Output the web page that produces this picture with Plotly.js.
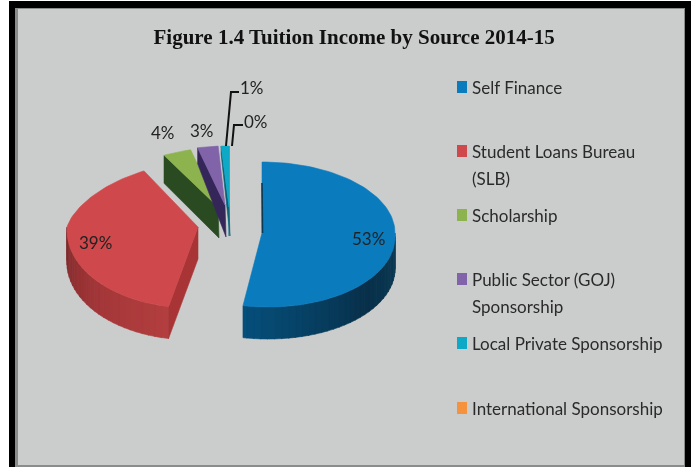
<!DOCTYPE html>
<html><head><meta charset="utf-8">
<script src="https://cdn.plot.ly/plotly-3.0.0.min.js"></script>
<style>html,body{margin:0;padding:0;background:#fff}#c{width:691px;height:467px;filter:blur(0.4px)}</style>
</head><body><div id="c"></div>
<script>
const titleText = "Figure 1.4 Tuition Income by Source 2014-15";
const categories = ["Self Finance","Student Loans Bureau<br>(SLB)","Scholarship","Public Sector (GOJ)<br>Sponsorship","Local Private Sponsorship","International Sponsorship"];
const values = [53,39,4,3,1,0];
const colors = ["#0a7bbd","#cf484b","#8cb34e","#8063a8","#0fa9c8","#f5923e"];
const cutColors = ["#0b3a55","#a83436","#2a4a22","#35265a","#0a5d73","#f5923e"];

// Projection of each exploded slice onto the page (3-D look)
const geom = [
 {cx:262,cy:233,rx:133,ryT:71,ryB:74,p:0,sk:6,d0:0,d:32,wall:[["#05507c",0],["#08304a",.6],["#0d3c57",1]]},
 {cx:198,cy:227,rx:131,ryT:64,ryB:81,p:.165,sk:-5,d0:32,d:32,wall:[["#7d2a2b",0],["#a33638",.55],["#b23e3f",1]]},
 {cx:218,cy:207,rx:131,ryT:59,ryB:59,p:.165,sk:0,d0:28,d:31},
 {cx:225,cy:205,rx:131,ryT:59,ryB:59,p:.165,sk:0,d0:16,d:32},
 {cx:229,cy:207,rx:150,ryT:61,ryB:61,p:.165,sk:0,d0:8,d:29},
 null];
const labelPos = [[368,238],[95,242],[163,132],[202,130],[252,87],[256,121]];
const legendY = [87,151,215,279,343,408];
const BG = "#cbcdcc";

const total = values.reduce((a,b)=>a+b,0);
function pt(g,deg,dy){
  const t=deg*Math.PI/180, s=Math.sin(t), c=Math.cos(t);
  return [g.cx+g.rx*s*(1-g.p*Math.max(c,0))+g.sk*Math.max(-c,0), g.cy-(c>0?g.ryT:g.ryB)*c+(dy||0)];
}
function poly(pts,color){
  const xs=pts.map(p=>p[0]).concat(pts[0][0]), ys=pts.map(p=>p[1]).concat(pts[0][1]);
  return {type:"scatter",mode:"lines",x:xs,y:ys,fill:"toself",fillcolor:color,line:{color:color,width:.6},hoverinfo:"skip",showlegend:false};
}
function hex(c){return [1,3,5].map(i=>parseInt(c.substr(i,2),16));}
function ramp(stops,f){
  for(let i=1;i<stops.length;i++){
    if(f<=stops[i][1]){
      const u=(f-stops[i-1][1])/(stops[i][1]-stops[i-1][1]);
      const a=hex(stops[i-1][0]),b=hex(stops[i][0]);
      return "rgb("+a.map((v,k)=>Math.round(v+(b[k]-v)*u)).join(",")+")";
    }
  }
  return stops[stops.length-1][0];
}
const traces=[];
let acc=0;
values.forEach((v,i)=>{
  const a0=acc/total*360; acc+=v; const a1=acc/total*360;
  const g=geom[i];
  if(!g||v===0) return;
  // outer wall strips, visible where the rim faces the viewer
  if(g.wall){
    const lo=Math.max(a0,90), hi=Math.min(a1,270);
    const step=3;
    for(let a=lo;a<hi;a+=step){
      const b=Math.min(a+step+.3,hi);
      const f=(hi-a)/(hi-lo);
      traces.push(poly([pt(g,a),pt(g,b),pt(g,b,g.d),pt(g,a,g.d)],ramp(g.wall,f)));
    }
  }
  // radial cut face
  const A=[g.cx,g.cy];
  if(i===1){
    const e=pt(g,a0);
    traces.push(poly([A,e,[e[0],e[1]+g.d],[A[0],A[1]+g.d]],cutColors[i]));
  } else if(i>1){
    const s=pt(g,a0);
    traces.push(poly([s,[s[0],s[1]+g.d0],[A[0]+1,A[1]+g.d],A],cutColors[i]));
    if(i===4){ const e=pt(g,a1); traces.push(poly([e,A,[A[0],A[1]+g.d]],"#0d6e88")); }
  }
  // top face
  const pts=[A]; const n=Math.max(4,Math.ceil((a1-a0)/2));
  for(let k=0;k<=n;k++) pts.push(pt(g,a0+(a1-a0)*k/n));
  const top=poly(pts,colors[i]);
  top.name=categories[i].replace("<br>"," ");
  top.hoverinfo="name";
  traces.push(top);
  if(i===0) traces.push({type:"scatter",mode:"lines",x:[g.cx,g.cx+.5],y:[g.cy-50,g.cy],line:{color:cutColors[0],width:1.6},hoverinfo:"skip",showlegend:false});
});

const annotations=[];
values.forEach((v,i)=>{
  annotations.push({x:labelPos[i][0],y:labelPos[i][1],xref:"x",yref:"y",text:v+"%",showarrow:false,
    font:{family:"Lato,sans-serif",size:17,color:"#222"},xanchor:"center",yanchor:"middle"});
  categories[i].split("<br>").forEach((line,k)=>{
    annotations.push({x:470,y:legendY[i]+27*k,xref:"x",yref:"y",text:line,showarrow:false,align:"left",
      font:{family:"Lato,sans-serif",size:17,color:"#2a2a2a"},xanchor:"left",yanchor:"middle"});
  });
});
const shapes=[
 {type:"rect",layer:"below",xref:"x",yref:"y",x0:9,x1:691,y0:1,y1:467,fillcolor:"#000",line:{width:0}},
 {type:"rect",layer:"below",xref:"x",yref:"y",x0:15,x1:685,y0:8,y1:467,fillcolor:"#8a8c8b",line:{width:0}},
 {type:"rect",layer:"below",xref:"x",yref:"y",x0:18,x1:684,y0:9,y1:465,fillcolor:BG,line:{width:0}},
 {type:"path",path:"M226,146 L231,92 L239,92",line:{color:"#111",width:2}},
 {type:"path",path:"M232,146 L234,125 L243,125",line:{color:"#111",width:2}}
];
colors.forEach((c,i)=>shapes.push({type:"rect",xref:"x",yref:"y",x0:457,x1:467,y0:legendY[i]-6,y1:legendY[i]+6,fillcolor:c,line:{width:0}}));

Plotly.newPlot("c",traces,{
  width:691,height:467,margin:{l:0,r:0,t:0,b:0},
  paper_bgcolor:"#fff",plot_bgcolor:"#fff",showlegend:false,
  title:{text:"<b>"+titleText+"</b>",x:.5125,xanchor:"center",y:.921,yanchor:"middle",
         font:{family:"'Liberation Serif',serif",size:21,color:"#111"}},
  xaxis:{range:[0,691],visible:false,fixedrange:true},
  yaxis:{range:[467,0],visible:false,fixedrange:true},
  shapes,annotations
},{displayModeBar:false,staticPlot:true});
</script></body></html>
